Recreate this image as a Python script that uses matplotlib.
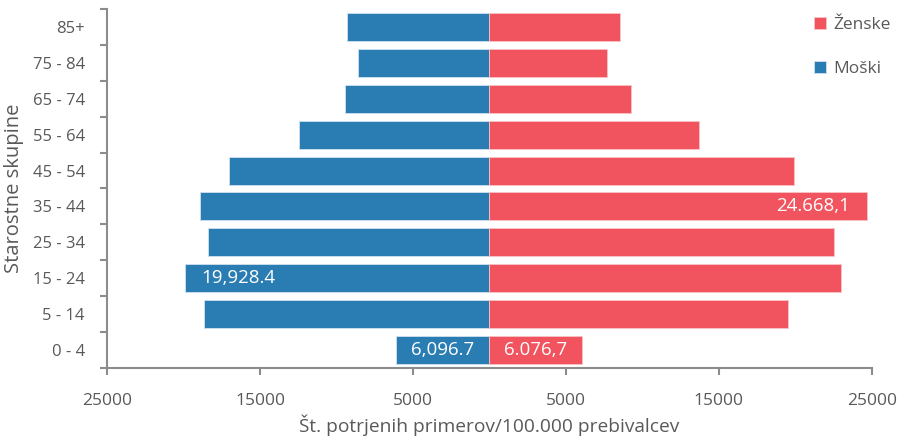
import matplotlib.pyplot as plt
import numpy as np

plt.rcParams['font.family'] = ['Open Sans', 'DejaVu Sans']

# Data
groups = ['0 - 4', '5 - 14', '15 - 24', '25 - 34', '35 - 44', '45 - 54',
          '55 - 64', '65 - 74', '75 - 84', '85+']
moski = [6096.7, 18650, 19928.4, 18400, 18950, 17050, 12450, 9450, 8600, 9320]
zenske = [6076.7, 19550, 23000, 22550, 24668.1, 19880, 13720, 9260, 7700, 8540]
xticks = [-25000, -15000, -5000, 5000, 15000, 25000]

blue = '#2a7db3'
red = '#f1545e'
grey = '#595959'
axis_col = '#8c8c8c'

fig = plt.figure(figsize=(9.03, 4.44), dpi=100)
ax = fig.add_axes([0.1185, 0.171, 0.847, 0.809])

y = np.arange(len(groups))
ax.barh(y, [-v for v in moski], height=0.78, color=blue, edgecolor='#cfe0ee',
        linewidth=0.6, label='Moški')
ax.barh(y, zenske, height=0.78, color=red, edgecolor='#f8c4c7',
        linewidth=0.6, label='Ženske')

# data labels
ax.text(-moski[2] + 1100, 2, '19,928.4', color='white', fontsize=13.5, va='center', ha='left')
ax.text(-moski[0] / 2, 0, '6,096.7', color='white', fontsize=13.5, va='center', ha='center')
ax.text(zenske[4] - 1100, 4, '24.668,1', color='white', fontsize=13.5, va='center', ha='right')
ax.text(zenske[0] / 2, 0, '6.076,7', color='white', fontsize=13.5, va='center', ha='center')

ax.set_xlim(-25000, 25000)
ax.set_ylim(-0.5, len(groups) - 0.5)

ax.set_xticks(xticks)
ax.set_xticklabels([str(abs(t)) for t in xticks])
ax.set_yticks(y)
ax.set_yticklabels(groups)
ax.set_yticks(np.arange(-0.5, len(groups), 1), minor=True)
ax.tick_params(axis='y', which='major', length=0, pad=16, labelsize=12, labelcolor=grey)
ax.tick_params(axis='y', which='minor', length=5, width=1.5, color=axis_col, direction='out')
ax.tick_params(axis='x', length=5, width=1.5, color=axis_col, pad=13,
               labelsize=12.5, labelcolor=grey)

for s in ['top', 'right']:
    ax.spines[s].set_visible(False)
for s in ['left', 'bottom']:
    ax.spines[s].set_color(axis_col)
    ax.spines[s].set_linewidth(1.5)

ax.set_xlabel('Št. potrjenih primerov/100.000 prebivalcev', fontsize=13.8, color=grey, labelpad=4)
ax.set_ylabel('Starostne skupine', fontsize=14.5, color=grey, labelpad=6)

handles, labels = ax.get_legend_handles_labels()
leg = ax.legend(handles[::-1], labels[::-1], loc='upper right', bbox_to_anchor=(1.045, 1.02),
                frameon=False, fontsize=12.5, labelspacing=1.6, handlelength=0.7,
                handleheight=0.7, handletextpad=0.4, labelcolor=grey)

fig.savefig('out.png', dpi=100)
